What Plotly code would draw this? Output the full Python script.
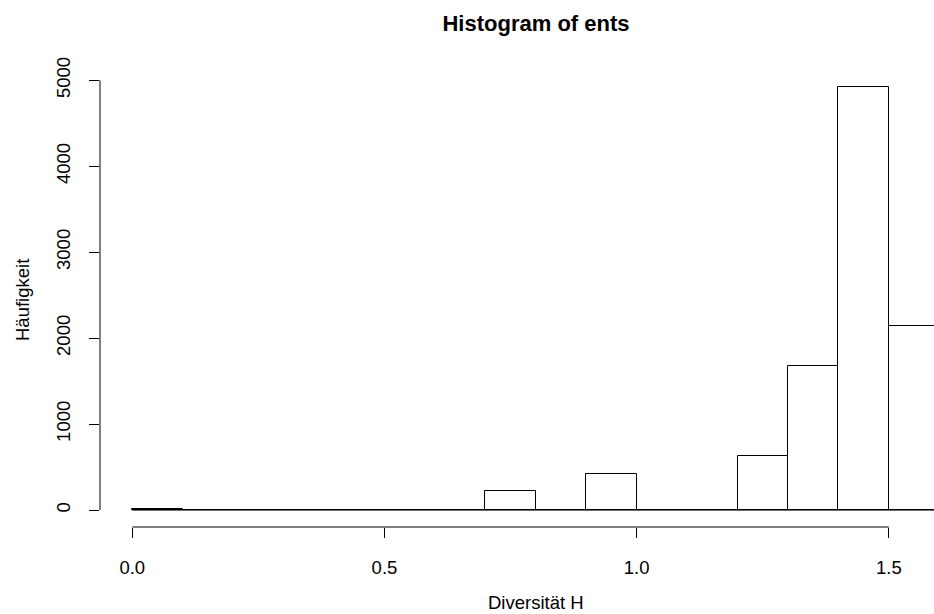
import plotly.graph_objects as go

# ---- data ----
bin_edges = [0.0, 0.1, 0.2, 0.3, 0.4, 0.5, 0.6, 0.7, 0.8, 0.9, 1.0, 1.1, 1.2, 1.3, 1.4, 1.5, 1.6]
counts = [8, 0, 0, 0, 0, 0, 0, 219, 0, 417, 0, 0, 631, 1674, 4922, 2144]
x_tick_vals = [0.0, 0.5, 1.0, 1.5]
x_tick_text = ["0.0", "0.5", "1.0", "1.5"]
y_tick_vals = [0, 1000, 2000, 3000, 4000, 5000]
y_tick_text = ["0", "1000", "2000", "3000", "4000", "5000"]

title_text = "Histogram of ents"
x_label = "Diversität H"
y_label = "Häufigkeit"

centers = [(a + b) / 2 for a, b in zip(bin_edges[:-1], bin_edges[1:])]
widths = [b - a for a, b in zip(bin_edges[:-1], bin_edges[1:])]

W, H = 934, 614
ML, MR, MT, MB = 100, 0, 70, 87
FONT = "Liberation Sans, Arial, Helvetica, sans-serif"
FS = 18.5

fig = go.Figure()

# baseline of the histogram (zero-height bins are drawn as lines in R)
fig.add_trace(go.Scatter(
    x=[bin_edges[0], bin_edges[-1]], y=[0, 0], mode="lines",
    line=dict(color="black", width=1), hoverinfo="skip", showlegend=False,
))

fig.add_trace(go.Bar(
    x=centers, y=counts, width=widths,
    marker=dict(color="rgba(0,0,0,0)", line=dict(color="black", width=1)),
    showlegend=False,
))

ymax = max(counts)
fig.update_layout(
    width=W, height=H,
    margin=dict(l=ML, r=MR, t=MT, b=MB, pad=0),
    paper_bgcolor="white", plot_bgcolor="white",
    font=dict(family=FONT, size=FS, color="black"),
    bargap=0,
    title=dict(text="<b>" + title_text + "</b>", font=dict(size=22, family=FONT, color="black"),
               xref="container", yref="container", x=536 / W, y=1 - 23 / H,
               xanchor="center", yanchor="middle"),
    xaxis=dict(range=[-0.064, -0.064 + (W - ML - MR) / 504.4],
               tickvals=x_tick_vals, ticktext=x_tick_text,
               ticks="outside", ticklen=10, tickwidth=1, tickcolor="black",
               showline=False, showgrid=False, zeroline=False,
               ticklabelstandoff=14, tickfont=dict(size=FS)),
    yaxis=dict(range=[-0.04 * ymax, 1.04 * ymax],
               tickvals=y_tick_vals, ticktext=y_tick_text,
               ticks="outside", ticklen=10, tickwidth=1, tickcolor="black",
               tickangle=-90,
               showline=False, showgrid=False, zeroline=False,
               ticklabelstandoff=12, tickfont=dict(size=FS)),
)

# R-style axis lines spanning first to last tick
fig.add_shape(type="line", xref="x", yref="paper",
              x0=x_tick_vals[0], x1=x_tick_vals[-1], y0=0, y1=0,
              line=dict(color="black", width=1))
fig.add_shape(type="line", xref="paper", yref="y",
              x0=0, x1=0, y0=y_tick_vals[0], y1=y_tick_vals[-1],
              line=dict(color="black", width=1))

plot_w = W - ML - MR
plot_h = H - MT - MB
fig.add_annotation(text=x_label, xref="paper", yref="paper",
                   x=(536 - ML) / plot_w, y=-(602 - (H - MB)) / plot_h,
                   xanchor="center", yanchor="middle", showarrow=False,
                   font=dict(size=FS, family=FONT))
fig.add_annotation(text=y_label, xref="paper", yref="paper",
                   x=(22 - ML) / plot_w, y=1 - (300 - MT) / plot_h,
                   xanchor="center", yanchor="middle", textangle=-90, showarrow=False,
                   font=dict(size=FS, family=FONT))

fig.write_html("out.html")
